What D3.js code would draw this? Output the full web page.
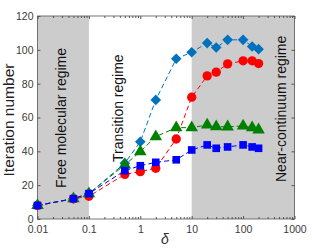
<!DOCTYPE html>
<html>
<head>
<meta charset="utf-8">
<script src="https://cdn.jsdelivr.net/npm/d3@7"></script>
<style>
  body { margin: 0; background: #fff; }
  svg text { font-family: "Liberation Sans", Arial, sans-serif; }
</style>
</head>
<body>
<div id="chart"></div>
<script>
// data
const deltas = [0.01, 0.05, 0.1, 0.5, 1, 2, 5, 10, 20, 30, 50, 100, 150, 200];
const diamondVals = [8, 12, 15, 33, 45.7, 70.4, 94.7, 98.6, 104, 101.4, 105.9, 105.9, 102, 100.4];
const circleVals = [8, 12, 13.4, 26.4, 28, 30, 47.3, 72, 84.6, 86.8, 91.7, 93.5, 93.5, 91.9];
const triangleVals = [8, 12, 15, 32, 39.8, 48.7, 54, 54, 55.6, 54.6, 54.5, 55, 54, 52.7];
const squareVals = [8, 12, 15, 28.6, 31.5, 33.5, 35, 40.8, 43.8, 41.8, 42.6, 43.8, 42.6, 41.8];
const xTicks = [0.01, 0.1, 1, 10, 100, 1000];
const yTicks = [0, 20, 40, 60, 80, 100, 120];
const regimeNames = ['Free molecular regime', 'Transition regime', 'Near-continuum regime'];
const regimeBounds = [[0.01, 0.1], [0.1, 10], [10, 1000]];
const regimeShaded = [true, false, true];

const W = 312, H = 250;
const padL = 37.5, padR = 294.5, padT = 16, padB = 219;

const svg = d3.select('#chart').append('svg')
  .attr('width', W).attr('height', H);

const x = d3.scaleLog().domain([0.01, 1000]).range([padL, padR]);
const y = d3.scaleLinear().domain([0, 120]).range([padB, padT]);

const regimes = regimeNames.map((n, i) => ({name: n, from: regimeBounds[i][0], to: regimeBounds[i][1], shade: regimeShaded[i]}));

// shaded regimes
svg.selectAll('rect.shade')
  .data(regimes.filter(r => r.shade)).enter()
  .append('rect')
  .attr('class', 'shade')
  .attr('x', d => x(d.from))
  .attr('y', padT)
  .attr('width', d => x(d.to) - x(d.from))
  .attr('height', padB - padT)
  .attr('fill', '#cccccc');

// regime labels (baseline x, bottom y in px)
const labelPos = [[66, 188], [123, 162], [286, 182]];
svg.selectAll('text.regime')
  .data(regimes).enter()
  .append('text')
  .attr('class', 'regime')
  .attr('transform', (d, i) => `translate(${labelPos[i][0]},${labelPos[i][1]}) rotate(-90)`)
  .attr('font-size', 14)
  .attr('fill', '#111')
  .text(d => d.name);

// axes
const gridColor = '#555';
const minor = [];
for (let e = -2; e < 3; e++) for (let k = 2; k < 10; k++) minor.push(k * Math.pow(10, e));

svg.append('g')
  .attr('transform', `translate(0,${padB})`)
  .call(d3.axisBottom(x).tickValues(xTicks).tickFormat(d3.format('~g')).tickSize(-3).tickPadding(7))
  .call(g => g.select('.domain').remove());
svg.append('g')
  .attr('transform', `translate(0,${padB})`)
  .call(d3.axisBottom(x).tickValues(minor).tickFormat('').tickSize(-2))
  .call(g => g.select('.domain').remove());
svg.append('g')
  .attr('transform', `translate(0,${padT})`)
  .call(d3.axisTop(x).tickValues(xTicks).tickFormat('').tickSize(-3))
  .call(g => g.select('.domain').remove());
svg.append('g')
  .attr('transform', `translate(0,${padT})`)
  .call(d3.axisTop(x).tickValues(minor).tickFormat('').tickSize(-2))
  .call(g => g.select('.domain').remove());
svg.append('g')
  .attr('transform', `translate(${padL},0)`)
  .call(d3.axisLeft(y).tickValues(yTicks).tickSize(-3).tickPadding(4))
  .call(g => g.select('.domain').remove());
svg.append('g')
  .attr('transform', `translate(${padR},0)`)
  .call(d3.axisRight(y).tickValues(yTicks).tickFormat('').tickSize(-3))
  .call(g => g.select('.domain').remove());

svg.selectAll('.tick line').attr('stroke', gridColor);
svg.selectAll('.tick text').attr('font-size', 10.5).attr('fill', '#3a3a3a')
  .attr('font-family', '"Liberation Sans", Arial, sans-serif');

svg.append('rect')
  .attr('x', padL).attr('y', padT)
  .attr('width', padR - padL).attr('height', padB - padT)
  .attr('fill', 'none').attr('stroke', gridColor).attr('stroke-width', 0.8);

// series
const series = [
  {vals: diamondVals, color: '#0072BD', sym: d3.symbolDiamond2, size: 72},
  {vals: circleVals, color: '#ff0000', sym: d3.symbolCircle, size: 68},
  {vals: triangleVals, color: '#008000', sym: d3.symbolTriangle, size: 68},
  {vals: squareVals, color: '#0000ff', sym: d3.symbolSquare, size: 58}
];

const line = d3.line().x(d => x(d[0])).y(d => y(d[1]));

series.forEach(s => {
  const pts = deltas.map((d, i) => [d, s.vals[i]]);
  svg.append('path')
    .datum(pts)
    .attr('d', line)
    .attr('fill', 'none')
    .attr('stroke', s.color)
    .attr('stroke-width', 1)
    .attr('stroke-dasharray', '5,3');
});
series.forEach(s => {
  const pts = deltas.map((d, i) => [d, s.vals[i]]);
  svg.append('g').selectAll('path')
    .data(pts).enter()
    .append('path')
    .attr('transform', d => `translate(${x(d[0])},${y(d[1])})`)
    .attr('d', d3.symbol().type(s.sym).size(s.size))
    .attr('fill', s.color);
});

// axis titles
svg.append('text')
  .attr('transform', `translate(13.5,120) rotate(-90)`)
  .attr('text-anchor', 'middle')
  .attr('font-size', 15.5)
  .attr('fill', '#222')
  .text('Iteration number');
svg.append('text')
  .attr('x', 165).attr('y', 244)
  .attr('text-anchor', 'middle')
  .attr('font-size', 14)
  .attr('font-style', 'italic')
  .attr('font-family', '"DejaVu Serif", "Liberation Serif", serif')
  .attr('fill', '#333')
  .text('δ');
</script>
</body>
</html>
